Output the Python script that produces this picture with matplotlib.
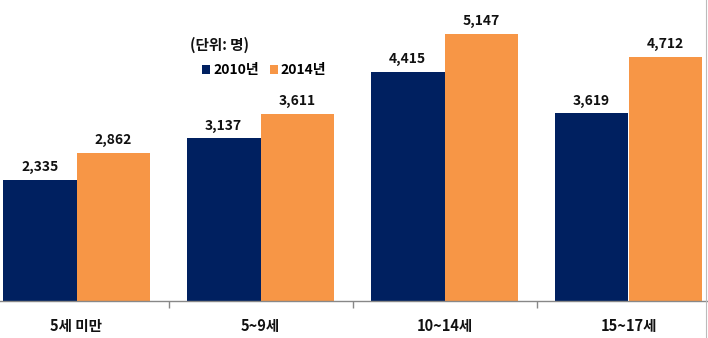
import matplotlib
matplotlib.use("Agg")
import matplotlib.pyplot as plt
from matplotlib.lines import Line2D
import numpy as np

plt.rcParams['font.family'] = ['Noto Sans CJK KR', 'DejaVu Sans']

categories = ["5세 미만", "5~9세", "10~14세", "15~17세"]
series_names = ["2010년", "2014년"]
values_2010 = [2335, 3137, 4415, 3619]
values_2014 = [2862, 3611, 5147, 4712]
unit_label = "(단위: 명)"

navy = "#002060"
orange = "#F79646"

fig = plt.figure(figsize=(7.08, 3.38), dpi=100)
ax = fig.add_axes([-15.5 / 708, 37 / 338, 736 / 708, 311.3 / 338])

x = np.arange(len(categories))
w = 0.4
b1 = ax.bar(x - w / 2, values_2010, w, color=navy, label=series_names[0])
b2 = ax.bar(x + w / 2, values_2014, w, color=orange, label=series_names[1])

for bars, vals in ((b1, values_2010), (b2, values_2014)):
    for rect, v in zip(bars, vals):
        ax.annotate(f"{v:,}", (rect.get_x() + rect.get_width() / 2, v),
                    xytext=(0, 4), textcoords="offset points",
                    ha="center", va="bottom", fontsize=10, fontweight="bold",
                    color="#111111")

ax.set_xlim(-0.5, len(categories) - 0.5)
ax.set_ylim(0, 6000)
ax.set_yticks([])
for s in ("top", "right", "left"):
    ax.spines[s].set_visible(False)
ax.spines["bottom"].set_color("#888888")
ax.spines["bottom"].set_linewidth(1.0)

ax.set_xticks(x)
ax.set_xticklabels(categories, fontsize=10.5, fontweight="bold", color="#111111")
ax.tick_params(axis="x", which="major", length=0, pad=12)
ax.set_xticks(np.arange(0.5, len(categories) - 0.5, 1.0), minor=True)
ax.tick_params(axis="x", which="minor", length=5, color="#888888", width=1.0)

# thin frame edge on the right side of the chart area
fig.add_artist(Line2D([705.5 / 708, 705.5 / 708], [0, 1], color="#BBBBBB",
                      lw=0.8, transform=fig.transFigure))

fig.text(190 / 708, 1 - 45 / 338, unit_label, fontsize=10.5, fontweight="bold",
         ha="left", va="center", color="#111111")
leg = fig.legend(handles=[b1, b2], loc="center left",
                 bbox_to_anchor=(195 / 708, 1 - 70 / 338), ncol=2,
                 frameon=False, handlelength=0.6, handleheight=0.6,
                 handletextpad=0.2, columnspacing=0.8, borderpad=0,
                 prop={"size": 10, "weight": "bold"})

fig.savefig("out.png", dpi=100)
